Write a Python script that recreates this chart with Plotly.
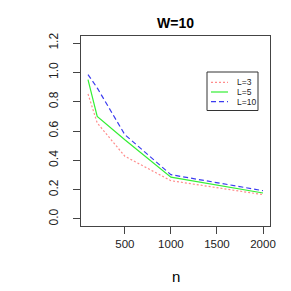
import plotly.graph_objects as go

# Data
n_values = [100, 200, 500, 1000, 2000]
series_names = ["L=3", "L=5", "L=10"]
l3_values = [0.853, 0.655, 0.428, 0.261, 0.166]
l5_values = [0.951, 0.700, 0.540, 0.285, 0.177]
l10_values = [0.985, 0.894, 0.575, 0.302, 0.193]
x_ticks = [500, 1000, 1500, 2000]
y_ticks = [0.0, 0.2, 0.4, 0.6, 0.8, 1.0, 1.2]
title_text = "W=10"
x_label = "n"

W, H = 291, 291
L, R, T, B = 73, 29, 28, 73

colors = ["#FF8C8C", "#33EE33", "#3B3BF0"]
dashes = ["2px,2px", "solid", "5px,3px"]
all_values = [l3_values, l5_values, l10_values]

fig = go.Figure()
for name, vals, c, d in zip(series_names, all_values, colors, dashes):
    fig.add_trace(go.Scatter(x=n_values, y=vals, mode="lines", name=name,
                             line=dict(color=c, width=1.2, dash=d),
                             showlegend=False))

def px_x(p):
    return (p - L) / (W - L - R)

def px_y(p):
    return 1 - (p - T) / (H - T - B)

# Manual legend (R style)
shapes = [dict(type="rect", xref="paper", yref="paper",
               x0=px_x(199), x1=px_x(250), y0=px_y(102.5), y1=px_y(64),
               line=dict(color="#333333", width=1), fillcolor="white", layer="below")]
annotations = []
legend_y = [74.3, 84, 93.7]
for name, c, d, yy in zip(series_names, colors, dashes, legend_y):
    shapes.append(dict(type="line", xref="paper", yref="paper",
                       x0=px_x(203), x1=px_x(220), y0=px_y(yy), y1=px_y(yy),
                       line=dict(color=c, width=1.2, dash=d)))
    annotations.append(dict(text=name, xref="paper", yref="paper",
                            x=px_x(226.5), y=px_y(yy), xanchor="left", yanchor="middle",
                            showarrow=False, font=dict(size=8.5, color="#222222")))

annotations.append(dict(text=x_label, xref="paper", yref="paper",
                        x=0.5, y=px_y(268), xanchor="center", yanchor="middle",
                        showarrow=False, font=dict(size=15, color="black")))
annotations.append(dict(text="<b>" + title_text + "</b>", xref="paper", yref="paper",
                        x=0.5, y=px_y(15), xanchor="center", yanchor="middle",
                        showarrow=False, font=dict(size=14, color="black")))

fig.update_layout(
    width=W, height=H,
    margin=dict(l=L, r=R, t=T, b=B, pad=0),
    paper_bgcolor="white", plot_bgcolor="white",
    font=dict(family="Liberation Sans, Arial, sans-serif", color="#222222"),
    shapes=shapes, annotations=annotations,
    xaxis=dict(range=[24, 2076], tickvals=x_ticks, ticktext=[str(v) for v in x_ticks],
               showgrid=False, zeroline=False, showline=True, mirror=True,
               linecolor="#444444", linewidth=1,
               ticks="outside", ticklen=7, tickcolor="#444444", tickwidth=1,
               tickfont=dict(size=11.5, color="#222222"), ticklabelstandoff=0),
    yaxis=dict(range=[-0.048, 1.248], tickvals=y_ticks,
               ticktext=["%.1f" % v for v in y_ticks],
               showgrid=False, zeroline=False, showline=True, mirror=True,
               linecolor="#444444", linewidth=1,
               ticks="outside", ticklen=7, tickcolor="#444444", tickwidth=1,
               tickangle=-90,
               tickfont=dict(size=12, color="#222222"), ticklabelstandoff=10),
)

fig.write_html("out.html")
